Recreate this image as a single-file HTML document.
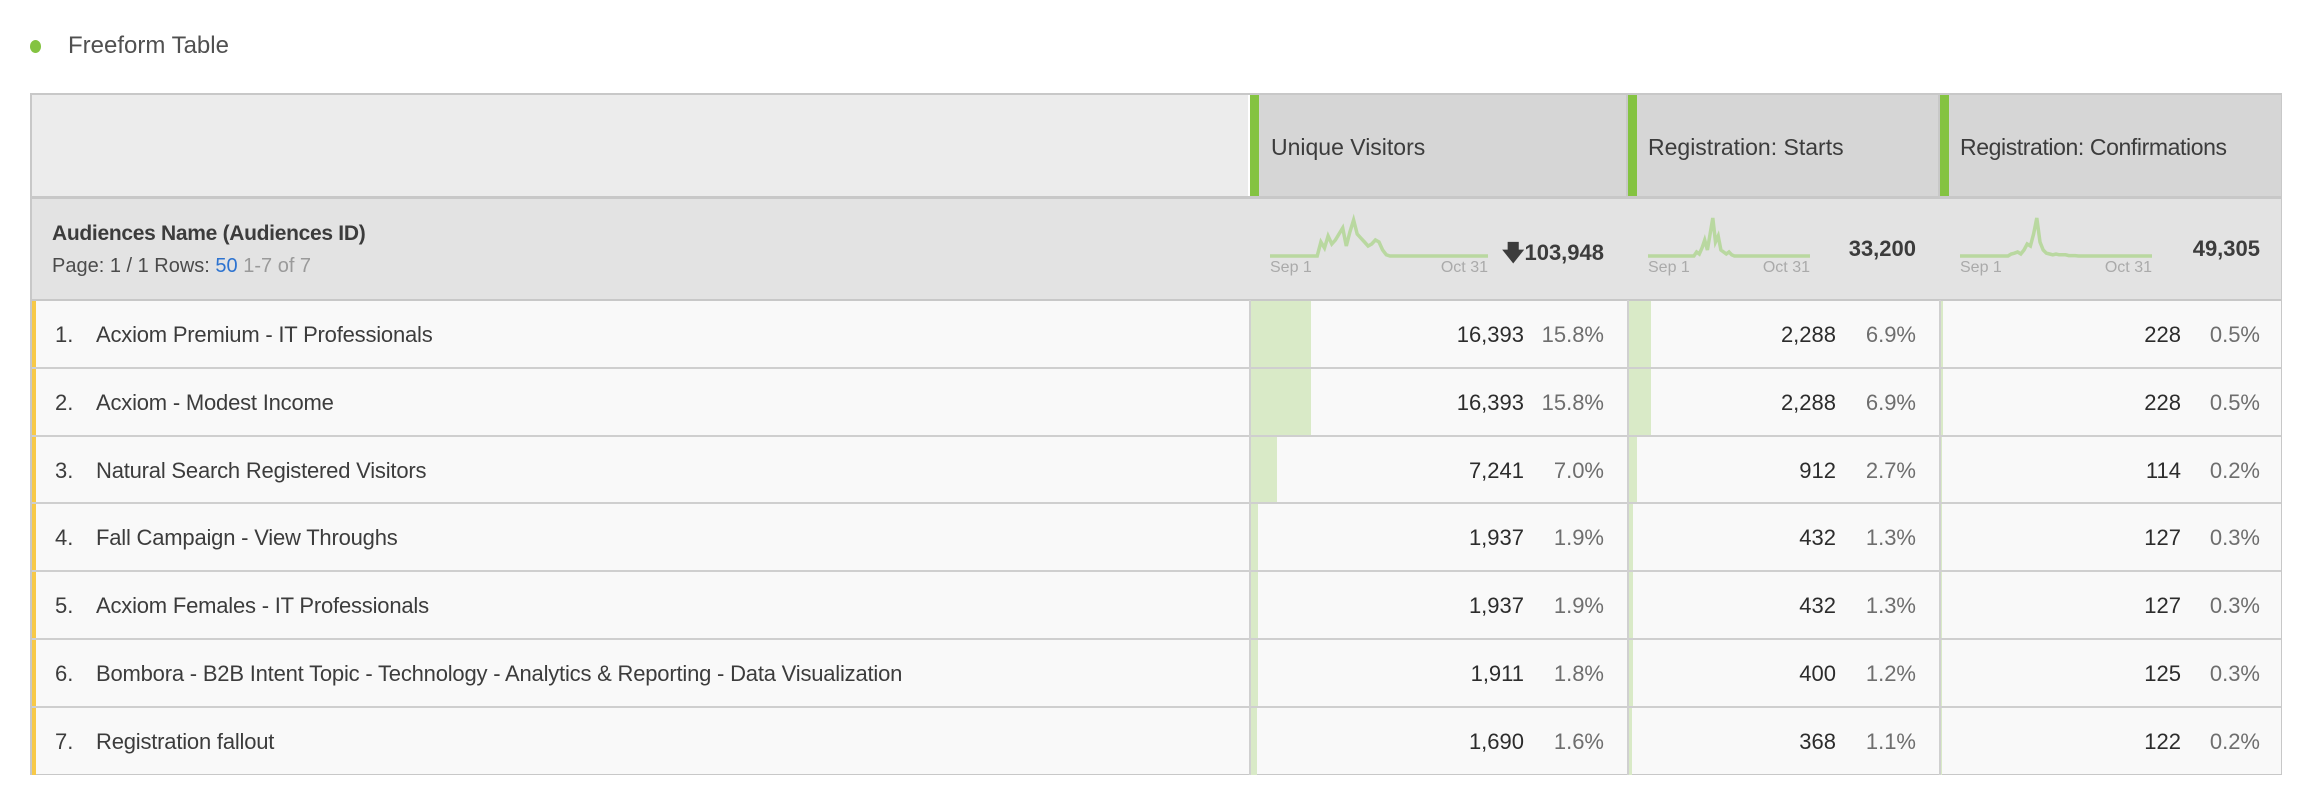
<!DOCTYPE html>
<html><head><meta charset="utf-8"><style>
body{margin:0;width:2307px;height:796px;background:#fff;font-family:"Liberation Sans",sans-serif;color:#4b4b4b;position:relative;overflow:hidden}
.a{position:absolute}
.t{position:absolute;white-space:nowrap}
</style></head><body>
<div class="a" style="left:30px;top:40px;width:11px;height:13px;border-radius:50%;background:#84c341"></div>
<div class="t" style="left:68px;top:32px;font-size:24px;color:#505050">Freeform Table</div>

<div class="a" style="left:30px;top:93px;width:2252px;height:682px;border:2px solid #c8c8c8;box-sizing:border-box;background:#f9f9f9">
</div>
<div class="a" style="left:32px;top:95px;width:1217px;height:102px;background:#ececec"></div>
<div class="a" style="left:1249px;top:95px;width:378px;height:102px;background:#d6d6d6;border-left:10px solid #84c341;box-sizing:border-box"></div>
<div class="a" style="left:1627px;top:95px;width:312px;height:102px;background:#d6d6d6;border-left:10px solid #84c341;box-sizing:border-box"></div>
<div class="a" style="left:1939px;top:95px;width:342px;height:102px;background:#d6d6d6;border-left:10px solid #84c341;box-sizing:border-box"></div>
<div class="a" style="left:1248px;top:95px;width:2px;height:102px;background:#fff"></div>
<div class="a" style="left:1626px;top:95px;width:2px;height:102px;background:#c8c8c8"></div>
<div class="a" style="left:1938px;top:95px;width:2px;height:102px;background:#c8c8c8"></div>
<div class="t" style="left:1271px;top:134px;font-size:23px;color:#3c3c3c">Unique Visitors</div>
<div class="t" style="left:1648px;top:134px;font-size:23px;color:#3c3c3c">Registration: Starts</div>
<div class="t" style="left:1960px;top:134px;font-size:23px;color:#3c3c3c;letter-spacing:-0.4px">Registration: Confirmations</div>
<div class="a" style="left:32px;top:196px;width:2249px;height:3px;background:#c8c8c8"></div>
<div class="a" style="left:32px;top:199px;width:2249px;height:100px;background:#e3e3e3"></div>
<div class="t" style="left:52px;top:222px;font-size:21px;font-weight:bold;color:#3c3c3c;letter-spacing:-0.3px">Audiences Name (Audiences ID)</div>
<div class="t" style="left:52px;top:255px;font-size:20px;color:#4b4b4b">Page: 1 / 1 Rows: <span style="color:#2d73d0">50</span> <span style="color:#9a9a9a">1-7 of 7</span></div>
<div class="a" style="left:32px;top:299px;width:2249px;height:2px;background:#c8c8c8"></div>
<svg class="a" id="spark" style="left:0;top:0" width="2307" height="796"></svg>
<div id="rows"></div>
<script>
const names=["Acxiom Premium - IT Professionals","Acxiom - Modest Income","Natural Search Registered Visitors","Fall Campaign - View Throughs","Acxiom Females - IT Professionals","Bombora - B2B Intent Topic - Technology - Analytics & Reporting - Data Visualization","Registration fallout"];
const uv=[16393,16393,7241,1937,1937,1911,1690];
const uvPct=[15.8,15.8,7.0,1.9,1.9,1.8,1.6];
const rs=[2288,2288,912,432,432,400,368];
const rsPct=[6.9,6.9,2.7,1.3,1.3,1.2,1.1];
const rc=[228,228,114,127,127,125,122];
const rcPct=[0.5,0.5,0.2,0.3,0.3,0.3,0.2];
const totals=["103,948","33,200","49,305"];
const sparkUV=[5,5,5,5,5,5,5,5,5,5,5,5,5,5,40,25,55,35,45,60,75,30,65,95,60,50,40,30,35,45,40,20,8,5,5,5,5,5,5,5,5,5,5,5,5,5,5,5,5,5,5,5,5,5,5,5,5,5,5,5,5];
const sparkRS=[5,5,5,5,5,5,5,5,5,5,5,5,5,5,5,5,5,5,15,10,25,45,20,60,100,40,55,20,15,10,15,8,5,5,5,5,5,5,5,5,5,5,5,5,5,5,5,5,5,5,5,5,5,5,5,5,5,5,5,5,5];
const sparkRC=[5,5,5,5,5,5,5,5,5,5,5,5,5,5,5,5,10,12,15,10,20,35,30,60,100,40,20,12,10,8,10,8,8,8,6,6,6,5,5,5,5,5,5,5,5,5,5,5,5,5,5,5,5,5,5,5,5,5,5,5,5];
const cols=[{x:1249,w:378,v:uv,p:uvPct,nr:1524,pr:1604,sx:1270,sw:218,s:sparkUV,tr:1604,n:'unique-visitors'},
 {x:1627,w:312,v:rs,p:rsPct,nr:1836,pr:1916,sx:1648,sw:162,s:sparkRS,tr:1916,n:'registration-starts'},
 {x:1939,w:342,v:rc,p:rcPct,nr:2181,pr:2260,sx:1960,sw:192,s:sparkRC,tr:2260,n:'registration-confirmations'}];
const top0=300,rh=67.8;
const R=document.getElementById('rows');
const fmt=n=>n.toLocaleString('en-US');
function div(html,css,name,inter){const d=document.createElement('div');d.className='t';d.style.cssText=css;d.innerHTML=html;


R.appendChild(d);return d;}
names.forEach((nm,i)=>{
 const y=top0+i*rh;
 div('','left:32px;top:'+(y+1)+'px;width:2249px;height:'+(rh-2)+'px;background:#f9f9f9','row-'+(i+1),'true');
 div('','left:32px;top:'+(y+1)+'px;width:4px;height:'+(rh-1)+'px;background:#f7c948','row-marker','false');
 div((i+1)+'.','left:55px;top:'+(y+22)+'px;font-size:22px;color:#3c3c3c','row-number','false');
 div(nm.replace('&','&amp;'),'left:96px;top:'+(y+22)+'px;font-size:22px;color:#3c3c3c;letter-spacing:-0.2px','row-name','true');
 cols.forEach(c=>{
  div('','left:'+(c.x+2)+'px;top:'+(y+1)+'px;width:'+(c.p[i]/100*c.w)+'px;height:'+(rh-1)+'px;background:#d9eac7','bar-'+c.n,'false');
  div(fmt(c.v[i]),'right:'+(2307-c.nr)+'px;top:'+(y+22)+'px;font-size:22px;color:#2c2c2c','value-'+c.n,'false');
  div(c.p[i].toFixed(1)+'%','right:'+(2307-c.pr)+'px;top:'+(y+22)+'px;font-size:22px;color:#6e6e6e','percent-'+c.n,'false');
 });
 if(i<names.length-1) div('','left:32px;top:'+(y+rh-1)+'px;width:2249px;height:2px;background:#cfcfcf','row-divider','false');
});
cols.forEach(c=>{
 div('','left:'+c.x+'px;top:'+top0+'px;width:2px;height:475px;background:#d0d0d0','column-divider','false');
});
const S=document.getElementById('spark');const ns='http://www.w3.org/2000/svg';
cols.forEach((c,k)=>{
 const base=256,h=38,n=c.s.length;
 const pts=c.s.map((v,j)=>(c.sx+j*c.sw/(n-1)).toFixed(1)+','+(base-(v-5)/95*h).toFixed(1)).join(' ');
 const pl=document.createElementNS(ns,'polyline');pl.setAttribute('points',pts);pl.setAttribute('fill','none');pl.setAttribute('stroke','#b9d8a0');pl.setAttribute('stroke-width','3.5');
 
 
 S.appendChild(pl);
 div('Sep 1','left:'+c.sx+'px;top:259px;font-size:16px;color:#aaa','sparkline-start-label','false');
 div('Oct 31','right:'+(2307-c.sx-c.sw)+'px;top:259px;font-size:16px;color:#aaa','sparkline-end-label','false');
 div((k==0?'<span style="font-size:22px">&#129095;</span>':'')+totals[k],'right:'+(2307-c.tr)+'px;top:236px;font-size:22px;font-weight:bold;color:#3c3c3c','total-'+c.n,'false');
});
document.getElementById('rows').appendChild(S);
</script>
</body></html>
